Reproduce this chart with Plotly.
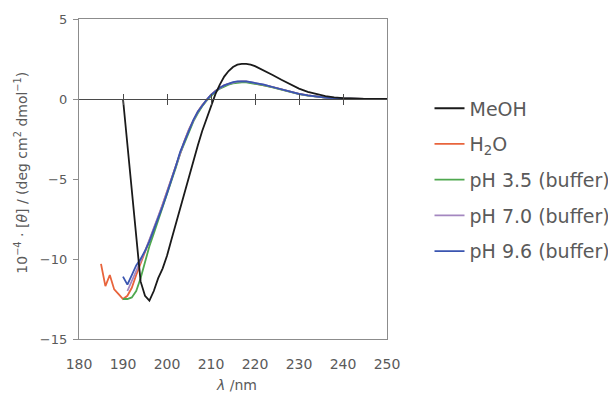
import plotly.graph_objects as go

# ---- data ----
meoh_x = [190, 191, 192, 193, 194, 195, 196, 197, 198, 199, 200, 201, 202, 203, 204, 205, 206, 207, 208, 209,
          210, 211, 212, 213, 214, 215, 216, 217, 218, 219, 220, 222, 224, 226, 228, 230, 232, 234, 236, 238,
          240, 245, 250]
meoh_y = [0.0, -2.9, -5.8, -8.7, -11.4, -12.3, -12.6, -12.0, -11.2, -10.6, -9.8, -8.8, -7.8, -6.8, -5.8, -4.8,
          -3.8, -2.9, -2.0, -1.2, -0.4, 0.3, 0.9, 1.4, 1.75, 2.0, 2.15, 2.2, 2.2, 2.15, 2.05, 1.8, 1.5, 1.2,
          0.9, 0.65, 0.45, 0.3, 0.18, 0.1, 0.05, 0.0, 0.0]

h2o_x = [185, 186, 187, 188, 189, 190, 191, 192, 193, 194, 195, 196, 197, 198, 199, 200, 201, 202, 203, 204,
         205, 206, 207, 208, 209, 210, 211, 212, 213, 214, 215, 216, 217, 218, 219, 220, 222, 224, 226, 228,
         230, 232, 234, 236, 238, 240, 245, 250]
h2o_y = [-10.3, -11.7, -11.0, -11.9, -12.2, -12.5, -12.3, -11.8, -11.0, -10.3, -9.6, -8.9, -8.2, -7.4, -6.6,
         -5.8, -5.0, -4.1, -3.3, -2.6, -1.9, -1.3, -0.8, -0.4, -0.05, 0.25, 0.5, 0.7, 0.85, 0.95, 1.02, 1.07,
         1.08, 1.08, 1.03, 0.98, 0.88, 0.74, 0.6, 0.45, 0.32, 0.22, 0.14, 0.08, 0.04, 0.02, 0.0, 0.0]

ph35_x = [190, 191, 192, 193, 194, 195, 196, 197, 198, 199, 200, 201, 202, 203, 204, 205, 206, 207, 208, 209,
          210, 211, 212, 213, 214, 215, 216, 217, 218, 219, 220, 222, 224, 226, 228, 230, 232, 234, 236, 238,
          240, 245, 250]
ph35_y = [-12.5, -12.5, -12.4, -12.0, -11.2, -10.2, -9.2, -8.4, -7.6, -6.8, -6.0, -5.2, -4.3, -3.4, -2.7,
          -2.0, -1.4, -0.9, -0.45, -0.1, 0.2, 0.45, 0.65, 0.8, 0.9, 0.98, 1.02, 1.04, 1.04, 1.0, 0.95, 0.85,
          0.72, 0.58, 0.44, 0.31, 0.21, 0.13, 0.08, 0.04, 0.02, 0.0, 0.0]

ph70_x = [191, 192, 193, 194, 195, 196, 197, 198, 199, 200, 201, 202, 203, 204, 205, 206, 207, 208, 209,
          210, 211, 212, 213, 214, 215, 216, 217, 218, 219, 220, 222, 224, 226, 228, 230, 232, 234, 236, 238,
          240, 245, 250]
ph70_y = [-12.0, -11.4, -10.7, -10.1, -9.5, -8.8, -8.1, -7.4, -6.6, -5.8, -5.0, -4.1, -3.3, -2.6, -1.9,
          -1.3, -0.8, -0.4, -0.05, 0.25, 0.5, 0.7, 0.85, 0.95, 1.03, 1.08, 1.1, 1.1, 1.05, 1.0, 0.9, 0.75,
          0.6, 0.45, 0.32, 0.22, 0.14, 0.08, 0.04, 0.02, 0.0, 0.0]

ph96_x = [190, 191, 192, 193, 194, 195, 196, 197, 198, 199, 200, 201, 202, 203, 204, 205, 206, 207, 208, 209,
          210, 211, 212, 213, 214, 215, 216, 217, 218, 219, 220, 222, 224, 226, 228, 230, 232, 234, 236, 238,
          240, 245, 250]
ph96_y = [-11.1, -11.6, -11.0, -10.4, -10.0, -9.5, -8.9, -8.2, -7.5, -6.7, -5.9, -5.1, -4.2, -3.3, -2.6,
          -1.9, -1.3, -0.8, -0.4, -0.05, 0.25, 0.5, 0.7, 0.85, 0.95, 1.05, 1.1, 1.1, 1.1, 1.05, 1.0, 0.9,
          0.75, 0.6, 0.45, 0.32, 0.22, 0.14, 0.08, 0.04, 0.02, 0.0, 0.0]

series_names = ["MeOH", "H<sub>2</sub>O", "pH 3.5 (buffer)", "pH 7.0 (buffer)", "pH 9.6 (buffer)"]
series_x = [meoh_x, h2o_x, ph35_x, ph70_x, ph96_x]
series_y = [meoh_y, h2o_y, ph35_y, ph70_y, ph96_y]
series_colors = ["#1a1a1a", "#e8643c", "#4fa84f", "#a487c0", "#3a55b0"]

x_ticks = [180, 190, 200, 210, 220, 230, 240, 250]
y_ticks = [-15, -10, -5, 0, 5]

FONT = "DejaVu Sans"
TXT = "#5a5a5a"
AX = "#8c8c8c"

fig = go.Figure()

# draw order: lower entries first so blue / black on top
order = [1, 2, 3, 4, 0]
for i in order:
    fig.add_trace(go.Scatter(
        x=series_x[i], y=series_y[i], mode="lines", name=series_names[i],
        line=dict(color=series_colors[i], width=1.8), legendgroup=f"g{i}", legendrank=i + 1,
    ))

# helper invisible traces for axes drawn along the zero line
for ax in ["x2", "x3"]:
    fig.add_trace(go.Scatter(x=[180, 250], y=[0, 0], xaxis=ax, mode="lines",
                             line=dict(color="rgba(0,0,0,0)"), showlegend=False, hoverinfo="skip"))

# page body has an 8px margin, so the figure is 8px smaller and margins shifted by 8
fig.update_layout(
    width=608, height=386,
    margin=dict(l=71, r=229, t=11, b=55, autoexpand=False),
    paper_bgcolor="white", plot_bgcolor="white",
    font=dict(family=FONT, size=14, color=TXT),
    showlegend=True,
    legend=dict(
        x=1.138, xanchor="left", y=0.78, yanchor="top",
        font=dict(family=FONT, size=19, color=TXT),
        bgcolor="rgba(0,0,0,0)", tracegroupgap=8, itemwidth=30,
        traceorder="grouped",
    ),
    xaxis=dict(
        range=[180, 250], tickvals=x_ticks, ticktext=[str(v) for v in x_ticks],
        showgrid=False, zeroline=False, showline=True, linecolor=AX, linewidth=1.3,
        mirror=True, ticks="", ticklabelstandoff=12, automargin=False,
        tickfont=dict(family=FONT, size=14, color=TXT),
    ),
    xaxis2=dict(
        range=[180, 250], overlaying="x", anchor="free", position=0.75,
        tickvals=x_ticks[1:-1], showticklabels=False, showgrid=False, zeroline=False,
        showline=True, linecolor="#4a4a4a", linewidth=1.2, automargin=False,
        ticks="outside", ticklen=5, tickcolor="#4a4a4a", tickwidth=1.2,
    ),
    xaxis3=dict(
        range=[180, 250], overlaying="x", anchor="free", position=0.75,
        tickvals=x_ticks[1:-1], showticklabels=False, showgrid=False, zeroline=False,
        showline=False, ticks="inside", ticklen=5, tickcolor="#4a4a4a", tickwidth=1.2,
        automargin=False,
    ),
    yaxis=dict(
        range=[-15, 5], tickvals=y_ticks, ticktext=["\u221215", "\u221210", "\u22125", "0", "5"],
        showgrid=False, zeroline=False, showline=True, linecolor=AX, linewidth=1.3,
        mirror=True, ticks="outside", ticklen=5, tickcolor=AX, ticklabelstandoff=3,
        automargin=False, tickfont=dict(family=FONT, size=13, color=TXT),
    ),
)

fig.add_annotation(
    text="10<sup>\u22124</sup> \u00b7 [<i>\u03b8</i>] / (deg cm<sup>2</sup> dmol<sup>\u22121</sup>)",
    xref="paper", yref="paper", x=-0.188, y=0.52, xanchor="center", yanchor="middle",
    textangle=-90, showarrow=False, font=dict(family=FONT, size=14, color=TXT),
)
fig.add_annotation(
    text="<i>\u03bb</i> /nm", xref="paper", yref="paper", x=0.51, y=-0.145,
    xanchor="center", yanchor="middle", showarrow=False,
    font=dict(family=FONT, size=14, color=TXT),
)

fig.write_html("out.html")
